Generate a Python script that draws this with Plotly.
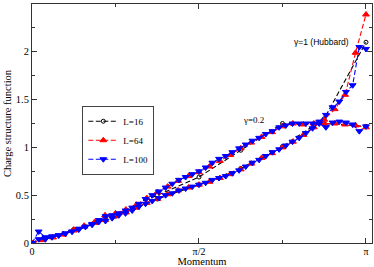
import plotly.graph_objects as go

# Momentum grids (in units of pi): q = 2k/L, k = 0..L/2
L_values = [16, 64, 100]

# gamma = 0.2 (upper, saturating curve)
s16_g02 = [0.00, 0.14, 0.30, 0.50, 0.69, 0.97, 1.25, 1.25, 1.22]
s64_g02 = [0.00, 0.04, 0.06, 0.09, 0.13, 0.18, 0.22, 0.29, 0.31, 0.35,
           0.40, 0.47, 0.53, 0.59, 0.65, 0.70, 0.74, 0.80, 0.86, 0.92,
           0.99, 1.05, 1.11, 1.16, 1.22, 1.25, 1.24, 1.25, 1.25, 1.25,
           1.24, 1.23, 1.21]
s100_g02 = [0.00, 0.12, 0.06, 0.07, 0.08, 0.10, 0.12, 0.14, 0.17, 0.20,
            0.24, 0.28, 0.29, 0.31, 0.34, 0.37, 0.41, 0.46, 0.50, 0.54,
            0.58, 0.62, 0.66, 0.69, 0.72, 0.75, 0.79, 0.84, 0.88, 0.91,
            0.95, 0.99, 1.03, 1.07, 1.10, 1.14, 1.17, 1.21, 1.23, 1.25,
            1.25, 1.25, 1.25, 1.25, 1.21, 1.26, 1.27, 1.26, 1.24, 1.17,
            1.22]

# gamma = 1 (Hubbard, lower convex curve)
s16_g1 = [0.00, 0.14, 0.28, 0.46, 0.61, 0.78, 1.01, 1.30, 2.10]
s64_g1 = [0.00, 0.03, 0.06, 0.09, 0.14, 0.17, 0.21, 0.24, 0.28, 0.32,
          0.37, 0.42, 0.46, 0.51, 0.55, 0.58, 0.61, 0.64, 0.68, 0.72,
          0.77, 0.83, 0.89, 0.94, 1.00, 1.06, 1.13, 1.21, 1.29, 1.40,
          1.55, 1.99, 2.39]
s100_g1 = [0.00, 0.04, 0.04, 0.06, 0.08, 0.10, 0.12, 0.15, 0.17, 0.19,
           0.22, 0.23, 0.26, 0.29, 0.31, 0.34, 0.38, 0.41, 0.44, 0.47,
           0.50, 0.52, 0.55, 0.57, 0.59, 0.61, 0.63, 0.66, 0.68, 0.70,
           0.73, 0.76, 0.80, 0.84, 0.87, 0.91, 0.95, 0.98, 1.02, 1.06,
           1.10, 1.15, 1.20, 1.27, 1.34, 1.42, 1.48, 1.58, 1.65, 2.05,
           2.03]

x_tick_vals = [0, 0.5, 1]
x_tick_text = ["0", "π/2", "π"]
y_tick_vals = [0, 0.5, 1, 1.5, 2, 2.5]
y_tick_text = ["0", "0.5", "1", "1.5", "2", "2.5"]


def momentum(L):
    return [2 * k / L for k in range(L // 2 + 1)]


series = {
    16: (s16_g02, s16_g1),
    64: (s64_g02, s64_g1),
    100: (s100_g02, s100_g1),
}
styles = {
    16: dict(color="black", symbol="circle-open", size=4),
    64: dict(color="#ff0000", symbol="triangle-up", size=6),
    100: dict(color="#0000ff", symbol="triangle-down", size=6),
}

SERIF = "Liberation Serif"

fig = go.Figure()
for L in L_values:
    st = styles[L]
    for i, vals in enumerate(series[L]):
        fig.add_trace(go.Scatter(
            x=momentum(L), y=vals,
            mode="lines+markers",
            name=f"L={L}",
            legendgroup=f"L{L}",
            showlegend=(i == 0),
            line=dict(color=st["color"], width=1.1, dash="5px,2.5px"),
            marker=dict(symbol=st["symbol"], size=st["size"], color=st["color"],
                        line=dict(color=st["color"], width=1)),
        ))

fig.add_annotation(x=0.662, y=1.29, text="γ=0.2", showarrow=False,
                   font=dict(family=SERIF, size=9, color="black"))
fig.add_annotation(x=0.868, y=2.10, text="γ=1 (Hubbard)", showarrow=False,
                   font=dict(family="Liberation Sans", size=8.5, color="black"))

axis_common = dict(
    showline=True, linecolor="#333333", linewidth=1, mirror="ticks",
    ticks="inside", ticklen=5, tickcolor="#333333", tickwidth=1,
    showgrid=False, zeroline=False, automargin=False,
)

fig.update_layout(
    width=374, height=267,
    margin=dict(l=31.5, r=2, t=4.3, b=24),
    paper_bgcolor="white", plot_bgcolor="white",
    font=dict(family=SERIF, color="black"),
    xaxis=dict(range=[0, 1.018], tickvals=x_tick_vals, ticktext=x_tick_text,
               tickfont=dict(family=SERIF, size=10, color="black"),
               ticklabelstandoff=-1,
               minor=dict(tickvals=[0.25, 0.75], ticks="inside", ticklen=3,
                          tickcolor="#333333"),
               title=dict(text="Momentum", standoff=0,
                          font=dict(family=SERIF, size=10.5)),
               **axis_common),
    yaxis=dict(range=[0, 2.5], tickvals=y_tick_vals, ticktext=y_tick_text,
               tickfont=dict(family=SERIF, size=10.5, color="black"),
               minor=dict(dtick=0.25, ticks="inside", ticklen=3,
                          tickcolor="#333333"),
               title=dict(text="Charge structure function", standoff=2,
                          font=dict(family=SERIF, size=10.5)),
               **axis_common),
    legend=dict(x=0.148, y=0.43, xanchor="left", yanchor="middle",
                bgcolor="white", bordercolor="#444444", borderwidth=1,
                font=dict(family=SERIF, size=9), itemwidth=30,
                tracegroupgap=0),
)

fig.write_html("out.html", config={"displayModeBar": False},
               post_script="document.body.style.margin='0';")
